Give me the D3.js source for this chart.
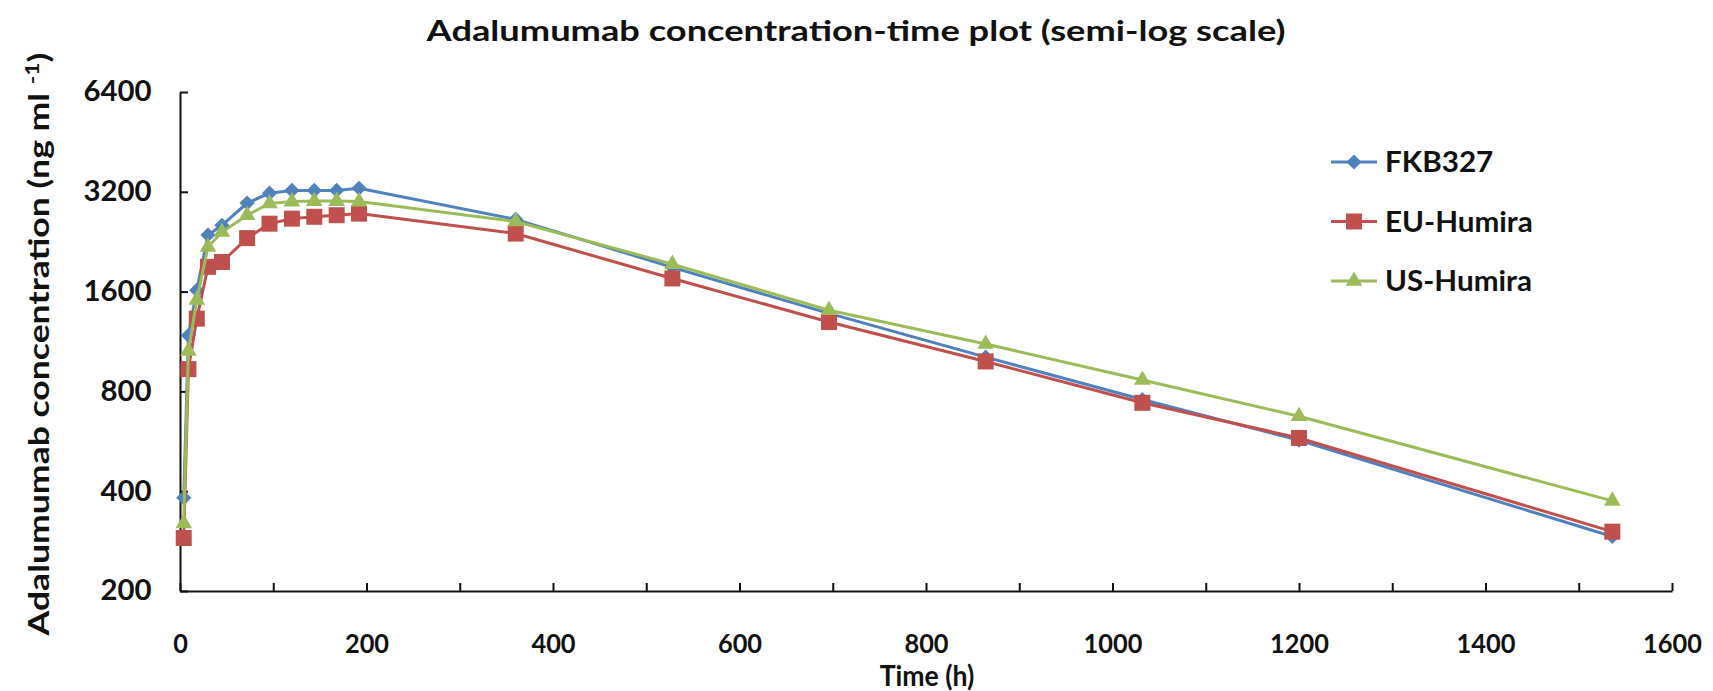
<!DOCTYPE html>
<html>
<head>
<meta charset="utf-8">
<script src="https://cdn.jsdelivr.net/npm/d3@7"></script>
<style>
  body { margin: 0; background: #fff; }
  text { font-family: Lato, "Open Sans", sans-serif; font-weight: bold; fill: #111; }
</style>
</head>
<body>
<div id="chart"></div>
<script>
// sampling times (h) and mean concentrations (ng/ml)
const times = [4, 9, 18, 30, 45, 72, 96, 120, 144, 168, 192, 360, 528, 696, 864, 1032, 1200, 1536]
const fkb327 = [382, 1180, 1615, 2370, 2535, 2960, 3170, 3230, 3230, 3230, 3280, 2643, 1893, 1375, 1015, 756, 570, 292]
const euHumira = [289, 934, 1326, 1900, 1965, 2320, 2564, 2656, 2690, 2720, 2750, 2394, 1753, 1295, 985, 739, 579, 302]
const usHumira = [320, 1060, 1510, 2180, 2420, 2720, 2950, 2990, 3000, 3000, 2990, 2603, 1937, 1406, 1112, 866, 673, 374]

const yTicks = [200, 400, 800, 1600, 3200, 6400]
const xTicks = [0, 100, 200, 300, 400, 500, 600, 700, 800, 900, 1000, 1100, 1200, 1300, 1400, 1500, 1600]

const series = [
  {name: "FKB327", values: fkb327, color: "#4F81BD", symbol: "diamond"},
  {name: "EU-Humira", values: euHumira, color: "#C0504D", symbol: "square"},
  {name: "US-Humira", values: usHumira, color: "#9BBB59", symbol: "triangle"}
]

const width = 1713
const height = 691

const svg = d3.select("#chart").append("svg").attr("width", width).attr("height", height)

const x = d3.scaleLinear().domain([0, 1600]).range([180, 1672])
const y = d3.scaleLog().base(2).domain([200, 6400]).range([591, 92])

// title
svg.append("text")
  .attr("transform", "translate(856,41) scale(1.25,1)")
  .attr("text-anchor", "middle")
  .style("font-size", "29px")
  .text("Adalumumab concentration-time plot (semi-log scale)")

// y axis
const yAxis = svg.append("g")
  .attr("transform", "translate(180,0)")
  .call(d3.axisLeft(y).tickValues(yTicks).tickFormat(d3.format("d")).tickSizeInner(-8).tickSizeOuter(0).tickPadding(27))
yAxis.select(".domain").attr("stroke", "#111").attr("stroke-width", 2)
yAxis.selectAll(".tick line").attr("stroke", "#111").attr("stroke-width", 2)
yAxis.selectAll(".tick text").style("font-size", "28px").attr("fill", "#111").attr("transform", "scale(1.05,1)")

// x axis
const xAxis = svg.append("g")
  .attr("transform", "translate(0,591)")
  .call(d3.axisBottom(x).tickValues(xTicks).tickFormat(d => d % 200 === 0 ? d : "").tickSizeInner(-8).tickSizeOuter(0).tickPadding(43))
xAxis.select(".domain").attr("stroke", "#111").attr("stroke-width", 2)
xAxis.selectAll(".tick line").attr("stroke", "#111").attr("stroke-width", 2)
xAxis.selectAll(".tick text").style("font-size", "27px").attr("fill", "#111").attr("transform", "scale(0.94,1)")

// axis titles
svg.append("text")
  .attr("transform", "translate(927,686) scale(0.95,1)")
  .attr("text-anchor", "middle")
  .style("font-size", "28px")
  .text("Time (h)")

const yLabel = svg.append("text")
  .attr("transform", "translate(49,344) rotate(-90) scale(1.27,1)")
  .attr("text-anchor", "middle")
  .style("font-size", "28px")
yLabel.append("tspan").text("Adalumumab concentration (ng ml ")
yLabel.append("tspan").attr("dy", -10).style("font-size", "18px").text("-1")
yLabel.append("tspan").attr("dy", 10).text(")")

// marker shapes
function marker(sel, kind) {
  if (kind === "diamond") {
    sel.attr("d", d3.symbol(d3.symbolSquare, 115)()).attr("transform", function() {
      return d3.select(this).attr("transform") + " rotate(45)"
    })
  } else if (kind === "square") {
    sel.attr("d", d3.symbol(d3.symbolSquare, 256)())
  } else {
    sel.attr("d", d3.symbol(d3.symbolTriangle, 120)())
  }
}

const line = d3.line()
  .x(d => x(d[0]))
  .y(d => y(d[1]))

series.forEach(s => {
  const pts = times.map((t, i) => [t, s.values[i]])
  const g = svg.append("g")
  g.append("path")
    .datum(pts)
    .attr("fill", "none")
    .attr("stroke", s.color)
    .attr("stroke-width", 3)
    .attr("d", line)
  g.selectAll("path.pt")
    .data(pts)
    .join("path")
    .attr("class", "pt")
    .attr("fill", s.color)
    .attr("transform", d => `translate(${x(d[0])},${y(d[1])})`)
    .call(marker, s.symbol)
})

// legend
const legend = svg.append("g")
series.forEach((s, i) => {
  const ly = 162 + i * 59.5
  legend.append("line")
    .attr("x1", 1331).attr("x2", 1377)
    .attr("y1", ly).attr("y2", ly)
    .attr("stroke", s.color).attr("stroke-width", 3)
  legend.append("path")
    .attr("fill", s.color)
    .attr("transform", `translate(1354,${ly})`)
    .call(marker, s.symbol)
  legend.append("text")
    .attr("transform", `translate(1385,${ly + 10}) scale(1.06,1)`)
    .style("font-size", "28px")
    .text(s.name)
})
</script>
</body>
</html>
